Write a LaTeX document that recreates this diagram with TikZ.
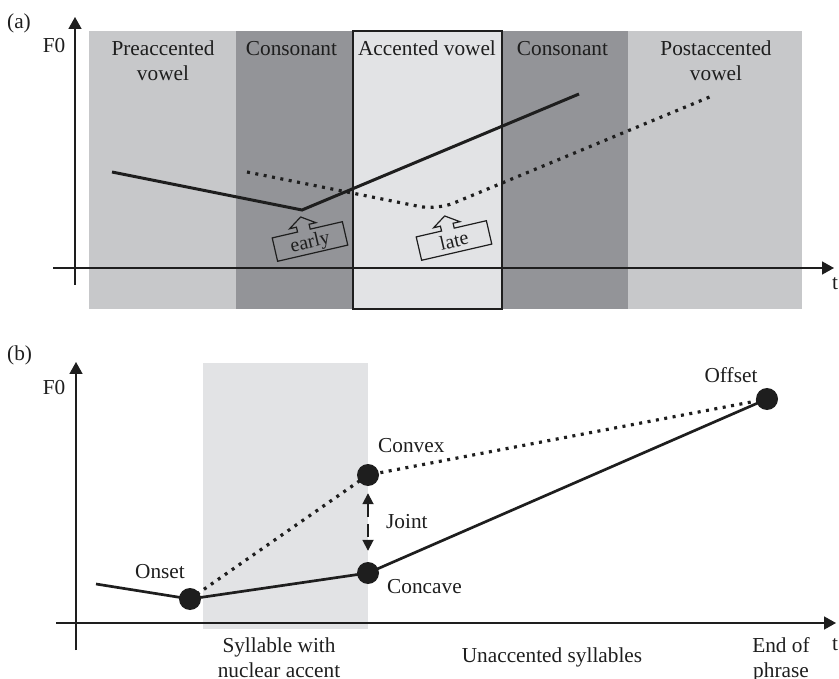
\documentclass[tikz,border=0pt]{standalone}
\usepackage{fontspec}
\setmainfont{Liberation Serif}
\usetikzlibrary{arrows.meta}
\definecolor{bandlight}{HTML}{C7C8CA}
\definecolor{banddark}{HTML}{939498}
\definecolor{bandpale}{HTML}{E2E3E5}
\definecolor{ink}{HTML}{1E1E1E}
\begin{document}
\begin{tikzpicture}[x=1pt,y=-1pt,
  lbl/.style={font=\fontsize{21.3}{25}\selectfont, inner sep=0pt, text=ink},
  axis/.style={line width=1.7pt, draw=ink, -{Triangle[length=12pt,width=13pt]}},
  curve/.style={line width=3pt, draw=ink},
  dotline/.style={line width=3.2pt, draw=ink, line cap=butt, dash pattern=on 3pt off 5.5pt},
  dotnode/.style={circle, fill=ink, minimum size=22pt, inner sep=0pt},
  calloutline/.style={line width=1.2pt, draw=ink},
  jointarrow/.style={line width=1.8pt, draw=ink, dash pattern=on 13pt off 7pt,
    {Triangle[length=11pt,width=11pt]}-{Triangle[length=11pt,width=11pt]}}
]
\useasboundingbox (0,0) rectangle (839,679);

% ---------------- (a) ----------------
\node[lbl, anchor=base west] (labela) at (7,29) {(a)};
\fill[bandlight] (89,31) rectangle (236,309);
\fill[banddark] (236,31) rectangle (353,309);
\fill[banddark] (502,31) rectangle (628,309);
\fill[bandlight] (628,31) rectangle (802,309);
\filldraw[fill=bandpale, draw=ink, line width=1.2pt] (353,31) rectangle (502,309);

\node[lbl, anchor=base, align=center] (pre) at (163,81) {Preaccented\\vowel};
\node[lbl, anchor=base] (cons1) at (291.5,56) {Consonant};
\node[lbl, anchor=base] (acc) at (427,56) {Accented vowel};
\node[lbl, anchor=base] (cons2) at (562.5,56) {Consonant};
\node[lbl, anchor=base, align=center] (post) at (716,81) {Postaccented\\vowel};

\coordinate (ya0) at (75,285);
\coordinate (ya1) at (75,17);
\coordinate (xa0) at (53,268);
\coordinate (xa1) at (834,268);
\draw[axis] (ya0) -- (ya1);
\draw[axis] (xa0) -- (xa1);
\node[lbl, anchor=base] (f0a) at (54,53) {F0};
\node[lbl, anchor=base west] (ta) at (832,290) {t};

\coordinate (s1) at (112,172);
\coordinate (s2) at (302,210);
\coordinate (s3) at (579,94);
\draw[curve] (s1) -- (s2) -- (s3);
\coordinate (d1) at (247,172);
\coordinate (d2) at (437,210);
\coordinate (d3) at (712,96);
\draw[dotline, rounded corners=18pt] (d1) -- (d2) -- (d3);

\begin{scope}[shift={(310,241.5)}, rotate=13]
  \draw[calloutline] (-36,-12) -- (-10,-12) -- (-10,-17) -- (-17,-17) -- (-3.6,-26)
    -- (10,-17) -- (3,-17) -- (3,-12) -- (36,-12) -- (36,12) -- (-36,12) -- cycle;
  \node[lbl, transform shape, font=\fontsize{20}{24}\selectfont] (early) at (0,1.5) {early};
\end{scope}
\begin{scope}[shift={(454,240.5)}, rotate=13]
  \draw[calloutline] (-36,-12) -- (-10,-12) -- (-10,-17) -- (-17,-17) -- (-3.6,-26)
    -- (10,-17) -- (3,-17) -- (3,-12) -- (36,-12) -- (36,12) -- (-36,12) -- cycle;
  \node[lbl, transform shape, font=\fontsize{20}{24}\selectfont] (late) at (0,0) {late};
\end{scope}

% ---------------- (b) ----------------
\node[lbl, anchor=base west] (labelb) at (7,360) {(b)};
\fill[bandpale] (203,363) rectangle (368,629);
\coordinate (yb0) at (76,650);
\coordinate (yb1) at (76,362);
\coordinate (xb0) at (56,623);
\coordinate (xb1) at (836,623);
\draw[axis] (yb0) -- (yb1);
\draw[axis] (xb0) -- (xb1);
\node[lbl, anchor=base] (f0b) at (54,395) {F0};
\node[lbl, anchor=base west] (tb) at (832,650) {t};

\coordinate (bstart) at (96,584);
\coordinate (onsetpt) at (190,599);
\coordinate (concavept) at (368,573);
\coordinate (convexpt) at (368,475);
\coordinate (offsetpt) at (767,399);
\draw[curve, line width=2.7pt] (bstart) -- (onsetpt) -- (concavept) -- (offsetpt);
\draw[dotline] (onsetpt) -- (convexpt) -- (offsetpt);
\node[dotnode] (onset) at (onsetpt) {};
\node[dotnode] (concave) at (concavept) {};
\node[dotnode] (convex) at (convexpt) {};
\node[dotnode] (offset) at (offsetpt) {};
\draw[jointarrow, shorten <=7pt, shorten >=11pt] (convex.south) -- (concave.north);

\node[lbl, anchor=base] (onsetlbl) at (160,578) {Onset};
\node[lbl, anchor=base west] (convexlbl) at (378,453) {Convex};
\node[lbl, anchor=base west] (jointlbl) at (386,528) {Joint};
\node[lbl, anchor=base west] (concavelbl) at (387,593) {Concave};
\node[lbl, anchor=base] (offsetlbl) at (731,383) {Offset};
\node[lbl, anchor=base, align=center] (syl) at (279,677) {Syllable with\\nuclear accent};
\node[lbl, anchor=base] (unacc) at (552,662) {Unaccented syllables};
\node[lbl, anchor=base, align=center] (eop) at (781,677) {End of\\phrase};
\end{tikzpicture}
\end{document}
